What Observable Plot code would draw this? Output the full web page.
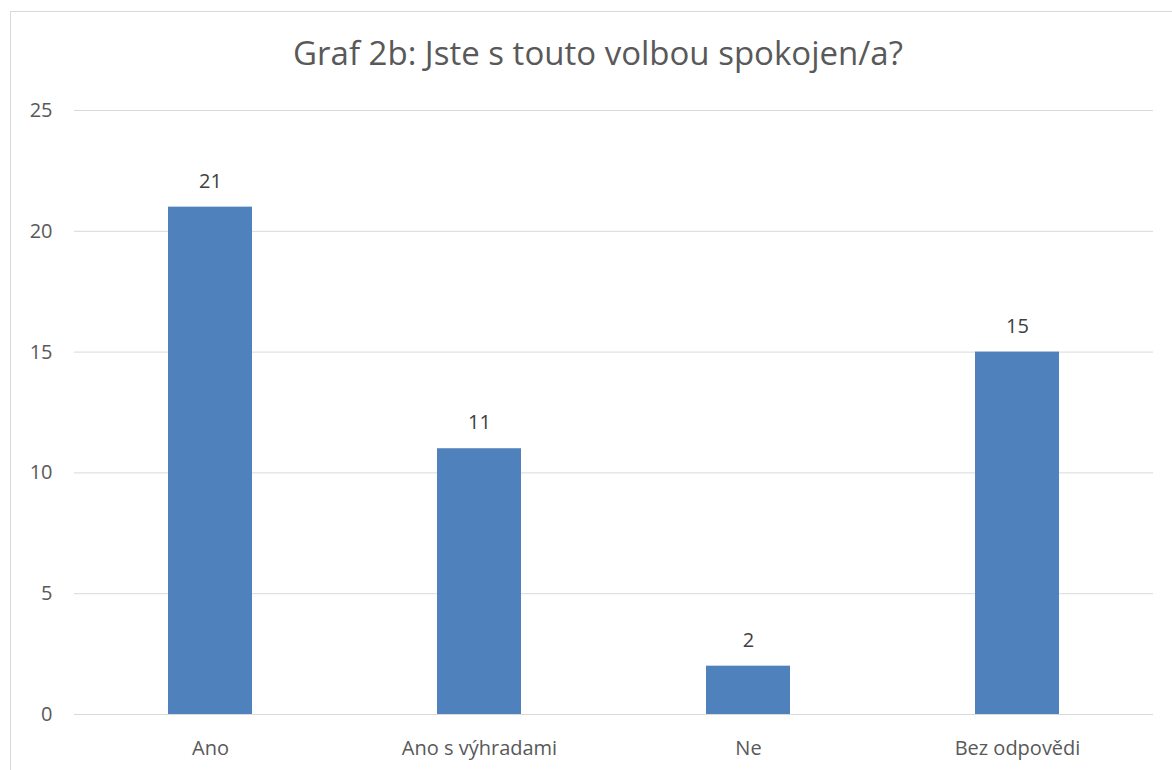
<!DOCTYPE html>
<html>
<head>
<meta charset="utf-8">
<script src="https://cdn.jsdelivr.net/npm/d3@7"></script>
<script src="https://cdn.jsdelivr.net/npm/@observablehq/plot@0.6"></script>
<style>
  html, body { margin: 0; padding: 0; background: #fff; overflow: hidden; }
  #wrap { position: relative; width: 1172px; height: 770px; font-family: "Open Sans", sans-serif; }
  #frame { position: absolute; left: 10px; top: 11px; width: 1200px; height: 800px; border: 1px solid #d9d9d9; pointer-events: none; }
  #title { height: 80px; box-sizing: border-box; padding-top: 33px; padding-left: 24px; text-align: center; font-size: 33px; color: #595959; line-height: 40px; white-space: nowrap; }
  #chart svg { overflow: visible; }
</style>
</head>
<body>
<div id="wrap">
  <div id="frame"></div>
  <div id="title">Graf 2b: Jste s touto volbou spokojen/a?</div>
  <div id="chart"></div>
</div>
<script>
const categories = ["Ano", "Ano s výhradami", "Ne", "Bez odpovědi"];
const values = [21, 11, 2, 15];
const yTicks = [0, 5, 10, 15, 20, 25];

const data = categories.map((c, i) => ({category: c, value: values[i]}));

const chart = Plot.plot({
  width: 1172,
  height: 690,
  marginLeft: 74,
  marginRight: 19,
  marginTop: 30,
  marginBottom: 56,
  style: {fontFamily: "'Open Sans', sans-serif", fontSize: "20px", color: "#595959", background: "transparent", overflow: "visible"},
  x: {domain: categories, paddingInner: 0.689, paddingOuter: 0.3445, label: null},
  y: {domain: [0, 25], label: null},
  marks: [
    Plot.gridY(yTicks, {stroke: "#d9d9d9", strokeOpacity: 1, strokeWidth: 1}),
    Plot.barY(data, {x: "category", y: "value", fill: "#4f81bd"}),
    Plot.text(data, {x: "category", y: "value", text: d => String(d.value), dy: -26, fill: "#404040", fontSize: 20}),
    Plot.axisY(yTicks, {tickSize: 0, tickPadding: 22, label: null, fill: "#595959", fontSize: 20}),
    Plot.axisX({tickSize: 0, tickPadding: 26, label: null, fill: "#595959", fontSize: 20})
  ]
});
document.getElementById("chart").appendChild(chart);
</script>
</body>
</html>
